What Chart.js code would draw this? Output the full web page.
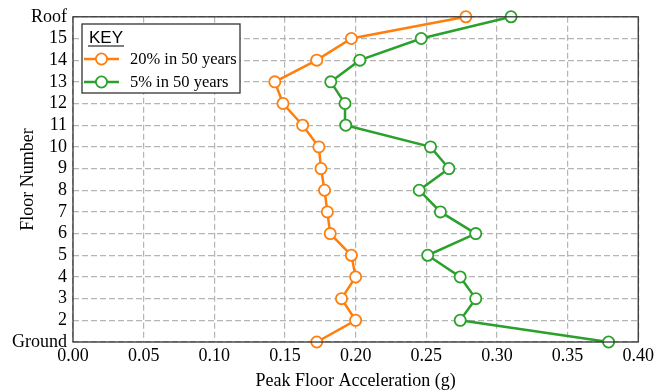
<!DOCTYPE html>
<html>
<head>
<meta charset="utf-8">
<script src="https://cdn.jsdelivr.net/npm/chart.js@4.4.1/dist/chart.umd.min.js"></script>
<style>
  html, body { margin: 0; padding: 0; background: #fff; }
  canvas { display: block; }
</style>
</head>
<body>
<canvas id="pfaChart" width="657" height="392"></canvas>
<script>
// Floors, bottom to top
const floors = ['Ground', '2', '3', '4', '5', '6', '7', '8', '9', '10', '11', '12', '13', '14', '15', 'Roof'];

// Peak floor acceleration (g) for each floor
const pfa20in50 = [0.1725, 0.200, 0.190, 0.200, 0.197, 0.182, 0.180, 0.178, 0.1755, 0.174, 0.1625, 0.1486, 0.1428, 0.1725, 0.197, 0.278];
const pfa5in50 = [0.379, 0.274, 0.285, 0.274, 0.251, 0.285, 0.260, 0.245, 0.266, 0.253, 0.193, 0.1925, 0.1824, 0.203, 0.2464, 0.310];

const xTicks = [0.00, 0.05, 0.10, 0.15, 0.20, 0.25, 0.30, 0.35, 0.40];

const orange = '#ff7f0e';
const green = '#2ca02c';
const serif = "'Liberation Serif', 'Times New Roman', serif";

// frame around the plot + the KEY box in the upper left
const framePlugin = {
    id: 'frameAndKey',
    afterDraw(chart) {
        const ctx = chart.ctx;
        const a = chart.chartArea;
        ctx.save();
        ctx.strokeStyle = '#333';
        ctx.lineWidth = 1.3;
        ctx.strokeRect(a.left, a.top, a.right - a.left, a.bottom - a.top);

        // key box
        const bx = 82, by = 24, bw = 158, bh = 69;
        ctx.fillStyle = '#fff';
        ctx.fillRect(bx, by, bw, bh);
        ctx.strokeRect(bx, by, bw, bh);

        ctx.fillStyle = '#000';
        ctx.font = "17px 'Liberation Sans', Arial, sans-serif";
        ctx.textBaseline = 'alphabetic';
        ctx.textAlign = 'left';
        ctx.fillText('KEY', 89, 43);
        const kw = ctx.measureText('KEY').width;
        ctx.lineWidth = 1.2;
        ctx.strokeStyle = '#000';
        ctx.beginPath();
        ctx.moveTo(88, 46);
        ctx.lineTo(89 + kw + 1, 46);
        ctx.stroke();

        chart.data.datasets.forEach((ds, i) => {
            const y = 59 + i * 23;
            ctx.strokeStyle = ds.borderColor;
            ctx.lineWidth = 2.5;
            ctx.beginPath();
            ctx.moveTo(84, y);
            ctx.lineTo(119, y);
            ctx.stroke();
            ctx.beginPath();
            ctx.fillStyle = '#fff';
            ctx.lineWidth = 1.8;
            ctx.arc(101.5, y, 5.6, 0, Math.PI * 2);
            ctx.fill();
            ctx.stroke();
            ctx.fillStyle = '#000';
            ctx.font = '16.5px ' + serif;
            ctx.textBaseline = 'middle';
            ctx.fillText(ds.label, 130, y + 1);
        });
        ctx.restore();
    }
};

const dash = { color: '#b5b5b5', lineWidth: 1.2, drawTicks: false };

new Chart(document.getElementById('pfaChart').getContext('2d'), {
    type: 'line',
    data: {
        labels: floors,
        datasets: [{
            label: '20% in 50 years',
            data: pfa20in50,
            borderColor: orange,
            backgroundColor: '#fff',
            borderWidth: 2.5,
            pointRadius: 5.6,
            pointBorderWidth: 1.8,
            pointBackgroundColor: '#fff',
            clip: false
        }, {
            label: '5% in 50 years',
            data: pfa5in50,
            borderColor: green,
            backgroundColor: '#fff',
            borderWidth: 2.5,
            pointRadius: 5.6,
            pointBorderWidth: 1.8,
            pointBackgroundColor: '#fff',
            clip: false
        }]
    },
    options: {
        indexAxis: 'y',
        responsive: false,
        animation: false,
        layout: { padding: { left: 0, right: 15, top: 16, bottom: 0 } },
        plugins: {
            legend: { display: false },
            tooltip: { enabled: false }
        },
        scales: {
            x: {
                type: 'linear',
                min: 0,
                max: 0.4,
                afterBuildTicks: (scale) => { scale.ticks = xTicks.map(v => ({ value: v })); },
                afterFit: (scale) => { scale.height = 50; },
                border: { display: false, dash: [6, 3] },
                grid: dash,
                ticks: {
                    color: '#000',
                    padding: 3,
                    font: { family: serif, size: 18 },
                    callback: (v) => Number(v).toFixed(2)
                },
                title: {
                    display: true,
                    text: 'Peak Floor Acceleration (g)',
                    color: '#000',
                    font: { family: serif, size: 18 },
                    padding: { top: 2, bottom: 0 }
                }
            },
            y: {
                type: 'category',
                reverse: true,
                offset: false,
                afterFit: (scale) => { scale.width = 73; },
                border: { display: false, dash: [6, 3] },
                grid: dash,
                ticks: {
                    color: '#000',
                    padding: 6,
                    autoSkip: false,
                    font: { family: serif, size: 18 }
                },
                title: {
                    display: true,
                    text: 'Floor Number',
                    color: '#000',
                    font: { family: serif, size: 18 },
                    padding: { top: 17, bottom: 0 }
                }
            }
        }
    },
    plugins: [framePlugin]
});
</script>
</body>
</html>
